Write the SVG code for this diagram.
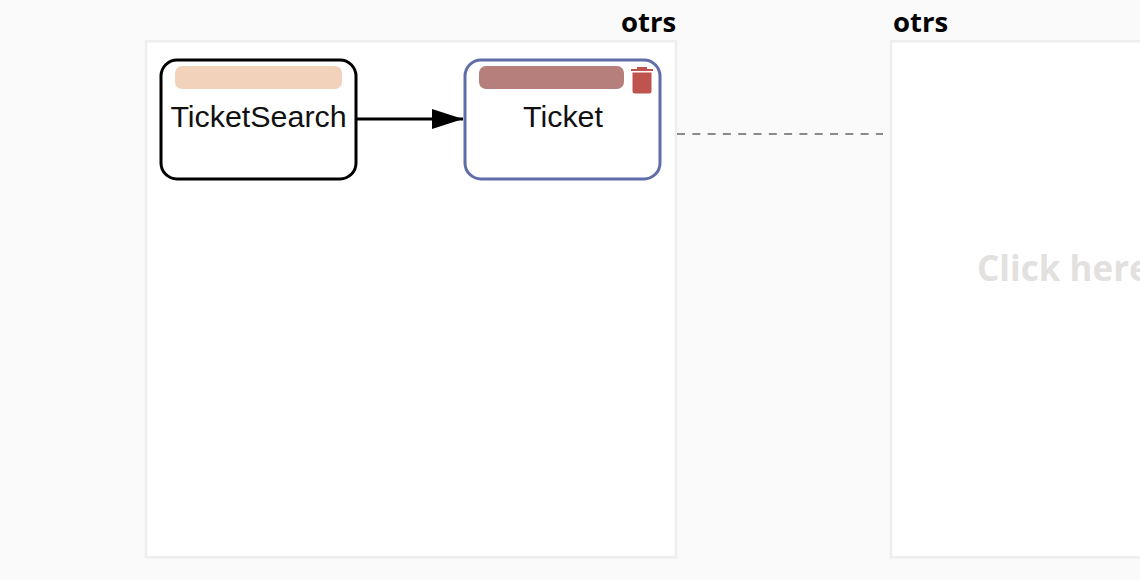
<svg xmlns="http://www.w3.org/2000/svg" width="1140" height="580" viewBox="0 0 1140 580">
<style>
.frame{fill:#fff;stroke:#eeeeee;stroke-width:2.500}
.title{font-family:"Open Sans","Noto Sans",sans-serif;font-weight:700;font-size:27.500px;fill:#000}
.label{font-family:"Liberation Sans",Arial,sans-serif;font-size:30.400px;fill:#111;text-anchor:middle}
.node{fill:#fff;stroke-width:3}
.hint{font-family:"Open Sans","Noto Sans",sans-serif;font-weight:700;font-size:35px;fill:#e3e0e0}
</style>
<defs>
<marker id="arrow" markerUnits="userSpaceOnUse" markerWidth="32" markerHeight="20" refX="31" refY="10" orient="auto"><path d="M0 0L31 10L0 20Z" fill="#000"/></marker>
</defs>
<rect width="1140" height="580" fill="#fafafa"/>
<g id="frame-left">
<rect class="frame" x="146" y="41.300" width="530" height="516"/>
<text class="title" x="621" y="32">otrs</text>
</g>
<g id="frame-right">
<rect class="frame" x="891" y="41.300" width="530" height="516"/>
<text class="title" x="893" y="32">otrs</text>
<text class="hint" x="977" y="281">Click here</text>
</g>
<g id="connectors">
<path d="M357 119H463" fill="none" stroke="#000" stroke-width="3" marker-end="url(#arrow)"/>
<path d="M677 134H883" fill="none" stroke="#666" stroke-width="1.500" stroke-dasharray="8 7.300"/>
</g>
<g id="node-ticketsearch">
<rect class="node" x="161" y="60" width="195" height="119" rx="16" stroke="#000"/>
<rect x="175" y="66" width="167" height="23" rx="7" fill="#f3d2bb"/>
<text class="label" x="258.500" y="127">TicketSearch</text>
</g>
<g id="node-ticket">
<rect class="node" x="465" y="60" width="195" height="119" rx="16" stroke="#5f6da8"/>
<rect x="479" y="66" width="145" height="23" rx="7" fill="#b77f7b"/>
<text class="label" x="563" y="127">Ticket</text>
<path d="M631 69H653V71H631ZM637 67H647V69H637ZM632.500 72.500H651.500V91Q651.500 93.500 649 93.500H635Q632.500 93.500 632.500 91Z" fill="#bf534e"/>
</g>
</svg>
